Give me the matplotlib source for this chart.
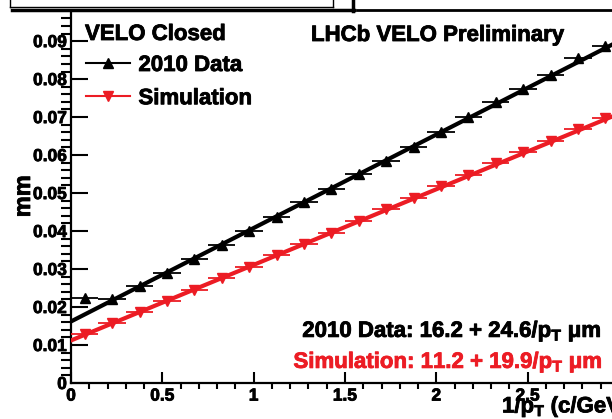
import matplotlib
matplotlib.use("Agg")
import matplotlib.pyplot as plt
import matplotlib.patheffects as pe
from matplotlib.lines import Line2D
from matplotlib.ticker import MultipleLocator, FuncFormatter

plt.rcParams["font.family"] = ["Liberation Sans", "DejaVu Sans"]
plt.rcParams["font.weight"] = "bold"
plt.rcParams["mathtext.fontset"] = "custom"
plt.rcParams["mathtext.rm"] = "Liberation Sans:bold"
plt.rcParams["mathtext.bf"] = "Liberation Sans:bold"

# bin centres in 1/pT (c/GeV)
inv_pt = [0.075, 0.225, 0.375, 0.525, 0.675, 0.825, 0.975, 1.125, 1.275, 1.425,
          1.575, 1.725, 1.875, 2.025, 2.175, 2.325, 2.475, 2.625, 2.775, 2.925]
half_bin = 0.075

# IP resolution (mm)
data_2010 = [0.0225, 0.0222, 0.0255, 0.0290, 0.0327, 0.0363, 0.0400, 0.0437, 0.0476, 0.0512,
             0.0550, 0.0585, 0.0622, 0.0660, 0.0700, 0.0740, 0.0775, 0.0810, 0.0855, 0.0887]
simulation = [0.0130, 0.0157, 0.0187, 0.0216, 0.0246, 0.0276, 0.0306, 0.0336, 0.0366, 0.0396,
              0.0427, 0.0457, 0.0488, 0.0518, 0.0548, 0.0578, 0.0608, 0.0638, 0.0668, 0.0697]

# linear fits: offset (um) + slope (um c/GeV)
fit_data = (16.2, 24.6)
fit_sim = (11.2, 19.9)
fit_range = [0.0, 3.0]

RED = "#ec1c24"
W, H = 612, 419
heavy = [pe.withStroke(linewidth=0.6, foreground="black")]
heavy_red = [pe.withStroke(linewidth=0.6, foreground=RED)]


def fx(px):
    return px / W


def fy(py):
    return 1 - py / H


fig = plt.figure(figsize=(W / 100, H / 100), dpi=100)
ax = fig.add_axes([fx(71), 36 / H, (619 - 71) / W, (383 - 13) / H])

ax.errorbar(inv_pt, data_2010, xerr=half_bin, fmt="^", color="black", ms=6.5,
            elinewidth=1.3, capsize=0, zorder=3)
ax.errorbar(inv_pt, simulation, xerr=half_bin, fmt="v", color=RED, ms=6.5,
            elinewidth=1.3, capsize=0, zorder=3)

for (a, b), col in ((fit_data, "black"), (fit_sim, RED)):
    ax.plot(fit_range, [(a + b * t) / 1000 for t in fit_range], color=col, lw=3, zorder=4)

ax.set_xlim(0, 3)
ax.set_ylim(0, 0.0974)

for side in ("top", "right"):
    ax.spines[side].set_visible(False)
for side in ("left", "bottom"):
    ax.spines[side].set_linewidth(1.6)

ax.xaxis.set_major_locator(MultipleLocator(0.5))
ax.xaxis.set_minor_locator(MultipleLocator(0.1))
ax.yaxis.set_major_locator(MultipleLocator(0.01))
ax.yaxis.set_minor_locator(MultipleLocator(0.002))
ax.xaxis.set_major_formatter(FuncFormatter(lambda v, p: "%g" % v))
ax.yaxis.set_major_formatter(FuncFormatter(lambda v, p: "0" if abs(v) < 1e-9 else "%.2f" % v))

ax.tick_params(axis="both", direction="in", labelsize=12.5, width=1.5)
ax.tick_params(axis="y", which="major", length=12.5, pad=3)
ax.tick_params(axis="y", which="minor", length=7, width=1.5)
ax.tick_params(axis="x", which="major", length=8, pad=4)
ax.tick_params(axis="x", which="minor", length=4.5, width=1.5)
for lab in ax.get_xticklabels() + ax.get_yticklabels():
    lab.set_path_effects(heavy)

ax.set_ylabel("mm", fontsize=17, fontweight="bold", path_effects=heavy)
ax.yaxis.set_label_coords((35 - 71) / 548, 0.505)
ax.set_xlabel(r"1/p$_{\mathbf{T}}$ (c/GeV)", fontsize=16, fontweight="bold",
              ha="left", va="center", path_effects=heavy)
ax.xaxis.set_label_coords((502 - 71) / 548, (383 - 407) / 370)

handles = [Line2D([], [], color="black", marker="^", lw=1.5, ms=6.5),
           Line2D([], [], color=RED, marker="v", lw=1.5, ms=6.5)]
leg = fig.legend(handles, ["2010 Data", "Simulation"], loc="upper left",
                 bbox_to_anchor=(fx(86), fy(55)), frameon=False, fontsize=16,
                 handlelength=2.0, handletextpad=0.36, labelspacing=0.55, borderpad=0,
                 borderaxespad=0)
for t in leg.get_texts():
    t.set_path_effects(heavy)

fig.text(fx(85), fy(40), "VELO Closed", fontsize=16, va="baseline", path_effects=heavy)
fig.text(fx(311), fy(41), "LHCb VELO Preliminary", fontsize=16, va="baseline",
         path_effects=heavy)
fig.text(fx(602), fy(337), r"2010 Data: 16.2 + 24.6/p$_{\mathbf{T}}$ $\mathbf{\mu}$m",
         fontsize=16, ha="right", va="baseline", path_effects=heavy)
fig.text(fx(603), fy(368), r"Simulation: 11.2 + 19.9/p$_{\mathbf{T}}$ $\mathbf{\mu}$m",
         fontsize=16, ha="right", va="baseline", color=RED, path_effects=heavy_red)

# bottom edges of the header boxes above the frame
fig.add_artist(Line2D([fx(10), fx(333)], [fy(7), fy(7)], color="black", lw=1))
fig.add_artist(Line2D([fx(12), fx(354)], [fy(10.5), fy(10.5)], color="black", lw=2.5))
fig.add_artist(Line2D([fx(10), fx(10)], [fy(0), fy(7)], color="black", lw=1))
fig.add_artist(Line2D([fx(333), fx(333)], [fy(0), fy(7)], color="black", lw=1))
fig.add_artist(Line2D([fx(353), fx(353)], [fy(0), fy(11)], color="black", lw=2.5))
fig.add_artist(Line2D([fx(357), fx(612)], [fy(10.5), fy(10.5)], color="black", lw=2))

fig.savefig("out.png", dpi=100)
